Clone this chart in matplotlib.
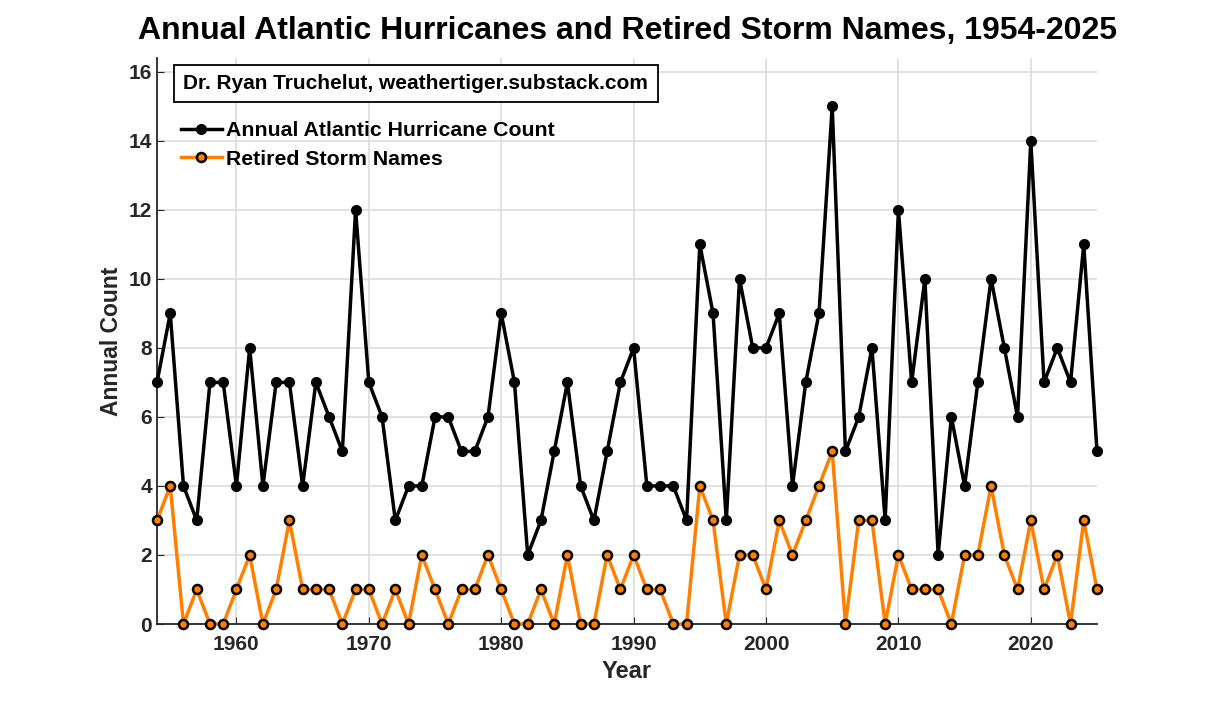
import numpy as np
import matplotlib
matplotlib.use("Agg")
import matplotlib.pyplot as plt

years = list(range(1954, 2026))
hurricanes = [7, 9, 4, 3, 7, 7, 4, 8, 4, 7, 7, 4, 7, 6, 5, 12, 7, 6, 3, 4,
              4, 6, 6, 5, 5, 6, 9, 7, 2, 3, 5, 7, 4, 3, 5, 7, 8, 4, 4, 4,
              3, 11, 9, 3, 10, 8, 8, 9, 4, 7, 9, 15, 5, 6, 8, 3, 12, 7, 10, 2,
              6, 4, 7, 10, 8, 6, 14, 7, 8, 7, 11, 5]
retired = [3, 4, 0, 1, 0, 0, 1, 2, 0, 1, 3, 1, 1, 1, 0, 1, 1, 0, 1, 0,
           2, 1, 0, 1, 1, 2, 1, 0, 0, 1, 0, 2, 0, 0, 2, 1, 2, 1, 1, 0,
           0, 4, 3, 0, 2, 2, 1, 3, 2, 3, 4, 5, 0, 3, 3, 0, 2, 1, 1, 1,
           0, 2, 2, 4, 2, 1, 3, 1, 2, 0, 3, 1]

plt.rcParams['font.family'] = ['Liberation Sans', 'DejaVu Sans']
plt.rcParams['font.weight'] = 'bold'

fig = plt.figure(figsize=(12.13, 7.01), dpi=100)
ax = fig.add_axes([157/1213, 1-624/701, 940/1213, 566/701])

ax.plot(years, hurricanes, '-o', color='black', lw=2.5, ms=7,
        label='Annual Atlantic Hurricane Count', clip_on=False, zorder=3)
ax.plot(years, retired, '-o', color='#FF8000', lw=2.5, ms=6.5,
        mfc='#FF8000', mec='black', mew=1.8, label='Retired Storm Names',
        clip_on=False, zorder=3)

ax.set_xlim(1954, 2025)
ax.set_ylim(0, 16.4)
ax.set_xticks(range(1960, 2030, 10))
ax.set_yticks(range(0, 17, 2))
ax.grid(True, color='#dcdcdc', lw=1.2)
ax.tick_params(labelsize=15, direction='in', length=5, colors='#262626')
ax.tick_params(axis='x', pad=8)
ax.spines['top'].set_visible(False)
ax.spines['right'].set_visible(False)
for s in ('left', 'bottom'):
    ax.spines[s].set_linewidth(1.3)
    ax.spines[s].set_color('#262626')
ax.set_xlabel('Year', fontsize=17, fontweight='bold', color='#262626')
ax.set_ylabel('Annual Count', fontsize=16.5, fontweight='bold', color='#262626')
ax.set_title('Annual Atlantic Hurricanes and Retired Storm Names, 1954-2025',
             fontsize=23, fontweight='bold', pad=14)

ax.text(0.028, 0.955, 'Dr. Ryan Truchelut, weathertiger.substack.com',
        transform=ax.transAxes, fontsize=15, fontweight='bold', va='center',
        bbox=dict(boxstyle='square,pad=0.45', fc='white', ec='black', lw=1.3))
leg = ax.legend(loc='upper left', bbox_to_anchor=(0.01, 0.915), frameon=False,
                fontsize=15.3, handlelength=1.9, handletextpad=0.2,
                borderaxespad=0.3, labelspacing=0.45)

fig.savefig('out.png', dpi=100)
